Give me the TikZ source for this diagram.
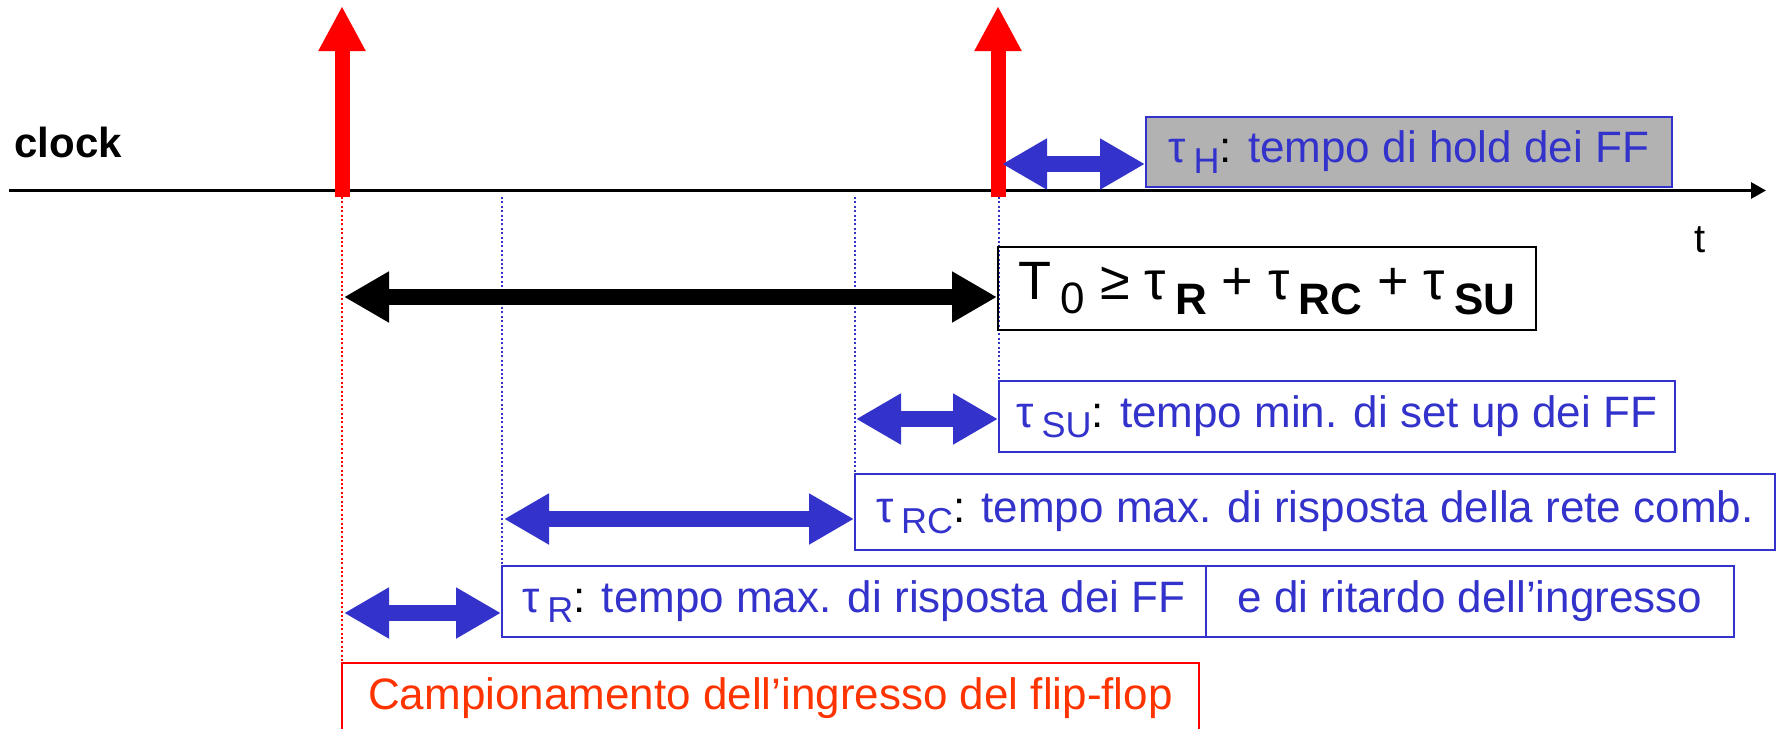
\documentclass[tikz,border=0pt]{standalone}
\usepackage{fontspec}
\setmainfont{Liberation Sans}
\usetikzlibrary{arrows.meta}
\definecolor{cblue}{RGB}{51,51,204}
\definecolor{cred}{RGB}{255,0,0}
\definecolor{ctext}{RGB}{255,51,0}
\definecolor{cgray}{RGB}{178,178,178}
% lowered subscripts used in the tau labels and in the formula
\newcommand{\lowsub}[1]{\raisebox{-0.45ex}{\fontsize{18}{20}\selectfont #1}}
\newcommand{\bigsub}[1]{\raisebox{-0.55ex}{\fontsize{22}{24}\selectfont\bfseries #1}}
\newcommand{\blk}[1]{{\color{black}#1}}
\begin{document}
\begin{tikzpicture}[x=0.5pt,y=-0.5pt,
  lbl/.style={draw=cblue, line width=1pt, inner sep=0pt, text=cblue,
              font=\fontsize{22}{26}\selectfont},
  dbl/.style={line width=8pt,
              {Triangle[length=22.5pt,width=24pt]}-{Triangle[length=22.5pt,width=24pt]}},
  guide/.style={line width=0.8pt, dash pattern=on 1pt off 1.2pt},
  pulse/.style={cred, line width=7.5pt, -{Triangle[length=22.5pt,width=22pt]}}]

\useasboundingbox (0,0) rectangle (1777,728);
\clip (0,0) rectangle (1777,728);

% reference instants
\coordinate (p1) at (342,197);
\coordinate (p2) at (998,197);
\coordinate (p1top) at (342,6);
\coordinate (p2top) at (998,6);
\coordinate (gR) at (502,197);
\coordinate (gRC) at (855,197);
\coordinate (gSU) at (999,197);

% boxes
\node[lbl, fill=cgray, minimum width=263pt, minimum height=35pt] (hold) at (1409,152)
  {τ\,\lowsub{H}\blk{:} tempo di hold dei FF};
\node[lbl, minimum width=338pt, minimum height=35.5pt] (su) at (1337,416.5)
  {τ\,\lowsub{SU}\blk{:} tempo min. di set up dei FF};
\node[lbl, minimum width=460pt, minimum height=38pt] (rc) at (1315,512)
  {τ\,\lowsub{RC}\blk{:} tempo max. di risposta della rete comb.};
\node[lbl, minimum width=352pt, minimum height=35.5pt] (r) at (854,601.5)
  {τ\,\lowsub{R}\blk{:} tempo max. di risposta dei FF};
\node[lbl, minimum width=264pt, minimum height=35.5pt] (r2) at (1470,601.5)
  {e di ritardo dell’ingresso};
\node[draw=cred, line width=1pt, inner sep=0pt, text=ctext, minimum width=428.5pt,
      minimum height=35pt, font=\fontsize{22}{26}\selectfont] (samp) at (770.5,698)
  {Campionamento dell’ingresso del flip-flop};

% guide lines
\draw[guide, cred] (p1) -- (342,728);
\draw[guide, cblue] (gR) -- (gR |- r.north);
\draw[guide, cblue] (gRC) -- (gRC |- rc.north);
\draw[guide, cblue] (gSU) -- (gSU |- su.north);

\node[draw=black, line width=1pt, inner sep=0pt, minimum width=269pt, minimum height=41.5pt,
      font=\fontsize{27}{30}\selectfont] (form) at (1267,288.5)
  {T\,\raisebox{-0.5ex}{\fontsize{22}{24}\selectfont 0} ≥ τ\,\bigsub{R} + τ\,\bigsub{RC} + τ\,\bigsub{SU}};

% labels
\node[font=\fontsize{21}{24}\selectfont\bfseries, anchor=west, inner sep=0pt] (clock) at (14,142) {clock};
\node[font=\fontsize{20}{24}\selectfont] (tlbl) at (1700,240) {t};

% time axis
\coordinate (ax0) at (9,190.5);
\coordinate (ax1) at (1766,190.5);
\draw[line width=1.5pt, -{Triangle[length=7.5pt,width=8pt]}] (ax0) -- (ax1);

% clock edges
\draw[pulse] (p1) -- (p1top);
\draw[pulse] (p2) -- (p2top);

% interval arrows
\coordinate (hL) at (1002,164);
\draw[dbl, cblue] (hL) -- (hL -| hold.west);
\coordinate (tL) at (344,297);
\draw[dbl, black] (tL) -- (tL -| form.west);
\coordinate (sL) at (856,419);
\draw[dbl, cblue] (sL) -- (sL -| su.west);
\coordinate (cL) at (504,519);
\draw[dbl, cblue] (cL) -- (cL -| rc.west);
\coordinate (rL) at (344,613);
\draw[dbl, cblue] (rL) -- (rL -| r.west);
\end{tikzpicture}
\end{document}
